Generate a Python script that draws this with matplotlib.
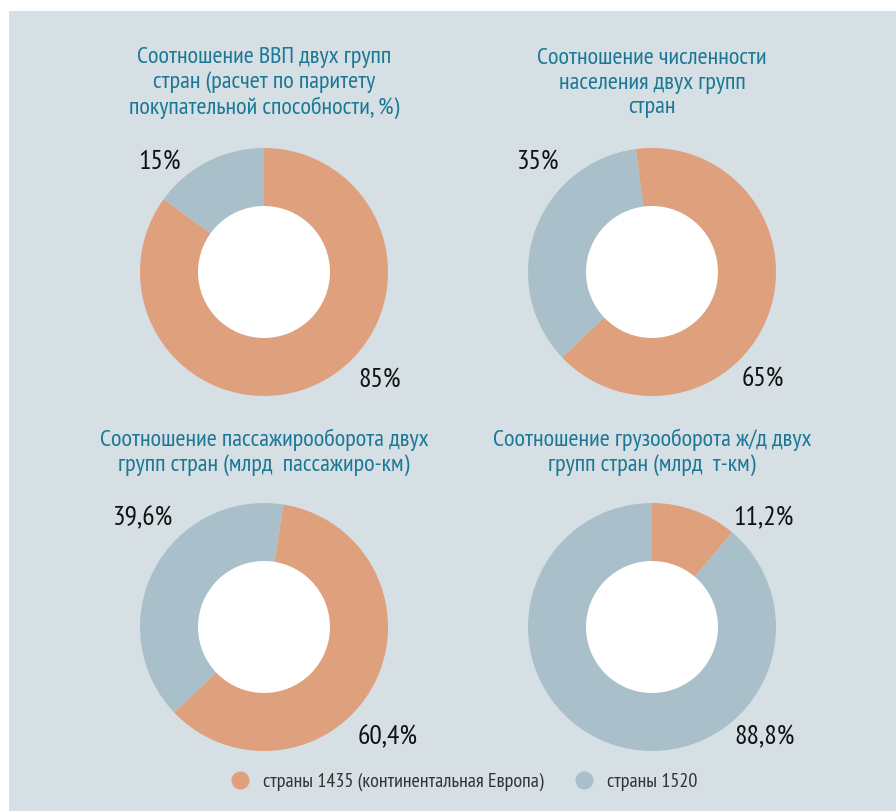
import matplotlib
matplotlib.use('Agg')
from matplotlib import pyplot as plt
from matplotlib.patches import Circle, Rectangle
from matplotlib.lines import Line2D

plt.rcParams['font.family'] = ['PT Sans Narrow', 'DejaVu Sans']

titles = [
    'Соотношение ВВП двух групп\nстран (расчет по паритету\nпокупательной способности, %)',
    'Соотношение численности\nнаселения двух групп\nстран',
    'Соотношение пассажирооборота двух\nгрупп стран (млрд  пассажиро-км)',
    'Соотношение грузооборота ж/д двух\nгрупп стран (млрд  т-км)',
]
share_1435 = [85, 65, 60.4, 11.2]
share_1520 = [15, 35, 39.6, 88.8]
labels_1435 = ['85%', '65%', '60,4%', '11,2%']
labels_1520 = ['15%', '35%', '39,6%', '88,8%']
legend_labels = ['страны 1435 (континентальная Европа)', 'страны 1520']

c_1435 = '#dfa07d'
c_1520 = '#a9c0ca'
bg = '#d6dfe3'
title_color = '#1a7896'

W, H = 896, 811
fig = plt.figure(figsize=(W / 100, H / 100), dpi=100, facecolor='white')
fig.patches.append(Rectangle((9 / W, 0), 1 - 9 / W, 1 - 11 / H, transform=fig.transFigure,
                             facecolor=bg, edgecolor='none', zorder=-10))

R = 124
centers = [(264, 272), (652, 272), (264, 627), (652, 627)]
start_off = [0, -7.5, 9, 0]
title_y = [83, 83, 452, 452]
# label spots in pixels, relative to centre (1435 label, 1520 label)
lab_1435 = [(116, 108), (111, 108), (124, 110), (111, -109)]
lab_1520 = [(-104, -110), (-114, -110), (-121, -109), (113, 110)]

for i in range(4):
    cx, cy = centers[i]
    ax = fig.add_axes([(cx - R) / W, 1 - (cy + R) / H, 2 * R / W, 2 * R / H])
    ax.pie([share_1435[i], share_1520[i]], colors=[c_1435, c_1520],
           startangle=90 - start_off[i], counterclock=False, radius=1,
           wedgeprops=dict(linewidth=0))
    ax.add_patch(Circle((0, 0), 66 / R, facecolor='white', edgecolor='none', zorder=5))
    ax.set_xlim(-1, 1)
    ax.set_ylim(-1, 1)
    ax.set_aspect('equal')
    ax.axis('off')

    dx, dy = lab_1435[i]
    ax.text(dx / R, -dy / R, labels_1435[i], ha='center', va='center',
            fontsize=20, color='#111111', clip_on=False)
    dx, dy = lab_1520[i]
    ax.text(dx / R, -dy / R, labels_1520[i], ha='center', va='center',
            fontsize=20, color='#111111', clip_on=False)

    fig.text(cx / W, 1 - title_y[i] / H, titles[i], ha='center', va='center',
             fontsize=17.5, color=title_color, linespacing=1.2)

handles = [Line2D([], [], marker='o', linestyle='none', markersize=13,
                  markerfacecolor=c, markeredgecolor='none') for c in (c_1435, c_1520)]
fig.legend(handles, legend_labels, loc='center', bbox_to_anchor=(459 / W, 1 - 782 / H),
           ncol=2, frameon=False, fontsize=14.5, labelcolor='#333333',
           handletextpad=0.15, columnspacing=1.0)

fig.savefig('out.png', dpi=100, facecolor='white')
